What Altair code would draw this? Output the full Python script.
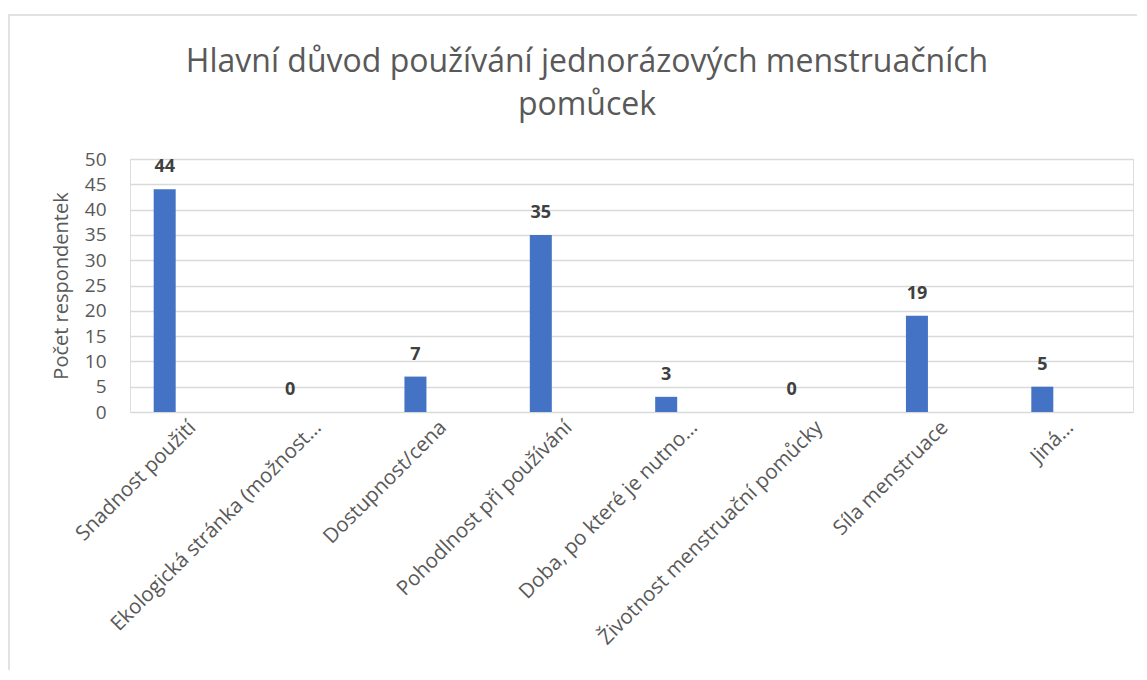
import altair as alt
import pandas as pd

categories = [
    "Snadnost použití",
    "Ekologická stránka (možnost…",
    "Dostupnost/cena",
    "Pohodlnost při používání",
    "Doba, po které je nutno…",
    "Životnost menstruační pomůcky",
    "Síla menstruace",
    "Jiná…",
]
counts = [44, 0, 7, 35, 3, 0, 19, 5]

title_lines = ["Hlavní důvod používání jednorázových menstruačních", "pomůcek"]
y_title = "Počet respondentek"

df = pd.DataFrame({"kategorie": categories, "pocet": counts})

FONT = "Open Sans"
GRAY = "#595959"

x_enc = alt.X(
    "kategorie:N",
    sort=categories,
    scale=alt.Scale(paddingInner=0, paddingOuter=0),
    axis=alt.Axis(
        title=None,
        labelAngle=-45,
        labelAlign="right",
        labelBaseline="middle",
        labelFontSize=20.5,
        labelColor=GRAY,
        labelFont=FONT,
        labelPadding=12,
        labelLimit=500,
        ticks=False,
        domain=False,
        grid=False,
    ),
)
y_enc = alt.Y(
    "pocet:Q",
    scale=alt.Scale(domain=[0, 50]),
    axis=alt.Axis(
        title=y_title,
        values=list(range(0, 51, 5)),
        labelFontSize=19,
        labelColor=GRAY,
        labelFont=FONT,
        labelPadding=24,
        ticks=False,
        domain=False,
        gridColor="#d9d9d9",
        gridWidth=1.3,
        titleFontSize=20,
        titleFont=FONT,
        titleFontWeight="normal",
        titleColor=GRAY,
        titlePadding=13,
    ),
)

bars = alt.Chart(df).mark_bar(color="#4472C4", width=22, xOffset=-28).encode(
    x=x_enc, y=y_enc
)
labels = alt.Chart(df).mark_text(
    font=FONT, fontSize=18, fontWeight="bold", color="#404040",
    baseline="alphabetic", dy=-17, xOffset=-28,
).encode(x=x_enc, y=y_enc, text="pocet:Q")

title_parts = []
for line, ypos in zip(title_lines, [-97, -54]):
    title_parts.append(
        alt.Chart(pd.DataFrame({"line": [line]})).mark_text(
            font=FONT, fontSize=32, color=GRAY, baseline="middle", align="center",
        ).encode(text="line:N", x=alt.value(457), y=alt.value(ypos))
    )

border_df = pd.DataFrame({"b": [0]})
border = alt.Chart(border_df).mark_rect(
    fill="transparent", stroke="#d9d9d9", strokeWidth=1.5
).encode(
    x=alt.value(-121), x2=alt.value(1040), y=alt.value(-144), y2=alt.value(560)
)

chart = (
    alt.layer(border, bars, labels, *title_parts)
    .properties(
        width=1003,
        height=253,
        autosize=alt.AutoSizeParams(type="none"),
        padding={"left": 122, "top": 151, "right": 4, "bottom": 258},
    )
    .configure_view(stroke=None)
    .configure(background="white")
)

chart.save("out.html", embed_options={"renderer": "svg", "actions": False})
